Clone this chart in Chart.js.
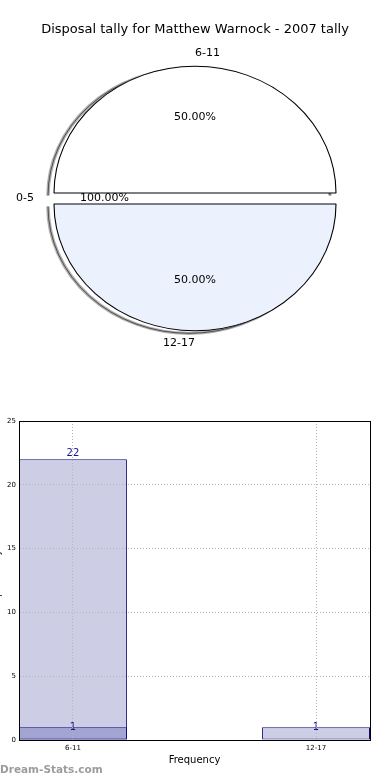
<!DOCTYPE html>
<html>
<head>
<meta charset="utf-8">
<script src="https://cdn.jsdelivr.net/npm/chart.js@4"></script>
<style>
    html, body { margin: 0; padding: 0; background: #fff; }
    body { width: 390px; height: 780px; position: relative; overflow: hidden; font-family: 'DejaVu Sans', sans-serif; }
    #pieBox { position: absolute; left: 0; top: 0; width: 390px; height: 400px; }
    #barBox { position: absolute; left: -10px; top: 400px; width: 400px; height: 380px; }
    .watermark { position: absolute; left: 0; top: 763px; font-size: 10.5px; font-weight: bold; color: #9c9c9c; }
</style>
</head>
<body>
<div id="pieBox"><canvas id="pieChart"></canvas></div>
<div id="barBox"><canvas id="barChart"></canvas></div>
<div class="watermark">Dream-Stats.com</div>
<script>
const chartTitle = 'Disposal tally for Matthew Warnock - 2007 tally';

// pie
const pieLabels = ['0-5', '6-11', '12-17'];
const pieValues = [0, 1, 1];
const piePercentLabels = ['100.00%', '50.00%', '50.00%'];

// bars
const barCategories = ['6-11', '12-17'];
const tallyValues = [22, 1];
const lowerValues = [1, null];
const yTicks = [0, 5, 10, 15, 20, 25];

Chart.defaults.font.family = 'DejaVu Sans';
Chart.defaults.color = '#000';

const squash = 0.9;   // pie is drawn a bit flattened
const explode = 6;    // every slice pulled out from the centre

// draws the slices itself: flattened, exploded, with a shadow rim
const piePlugin = {
    id: 'pieDecor',
    beforeDatasetDraw(chart, args) {
        const arcs = args.meta.data;
        const ctx = chart.ctx;
        const c = arcs[0];
        ctx.save();
        ctx.translate(c.x, c.y);
        ctx.scale(1, squash);
        ctx.translate(-c.x, -c.y);
        // shadow
        arcs.forEach(a => {
            if (a.endAngle - a.startAngle <= 0) return;
            const mid = (a.startAngle + a.endAngle) / 2;
            const sx = a.x + Math.cos(mid) * explode - 6;
            const sy = a.y + Math.sin(mid) * explode + 2.5 / squash;
            ctx.beginPath();
            ctx.arc(sx, sy, a.outerRadius, a.startAngle, a.endAngle);
            ctx.strokeStyle = 'rgba(140,140,140,0.7)';
            ctx.lineWidth = 3.5;
            ctx.stroke();
            ctx.beginPath();
            ctx.arc(sx, sy, a.outerRadius, a.startAngle, a.endAngle);
            ctx.strokeStyle = 'rgba(50,50,50,0.8)';
            ctx.lineWidth = 1;
            ctx.stroke();
        });
        arcs.forEach(a => {
            const mid = (a.startAngle + a.endAngle) / 2;
            ctx.save();
            ctx.translate(Math.cos(mid) * explode, Math.sin(mid) * explode);
            a.draw(ctx);
            ctx.restore();
        });
        ctx.restore();
        return false;
    },
    afterDraw(chart) {
        const arcs = chart.getDatasetMeta(0).data;
        const ctx = chart.ctx;
        ctx.save();
        ctx.font = '11px "DejaVu Sans"';
        ctx.fillStyle = '#000';
        ctx.textBaseline = 'middle';
        arcs.forEach((a, i) => {
            const mid = (a.startAngle + a.endAngle) / 2;
            const r = a.outerRadius;
            const cos = Math.cos(mid), sin = Math.sin(mid);
            const lx = a.x + cos * (1.1 * r + explode);
            const ly = a.y + sin * (1.1 * r + explode) * squash;
            ctx.textAlign = (sin < 0 && cos > -1e-6) ? 'left' : 'right';
            ctx.fillText(pieLabels[i], lx, ly);
            const px = a.x + cos * (0.6 * r + explode);
            const py = a.y + sin * (0.6 * r + explode) * squash;
            ctx.textAlign = 'center';
            ctx.fillText(piePercentLabels[i], px, py);
        });
        ctx.restore();
    }
};

new Chart(document.getElementById('pieChart'), {
    type: 'pie',
    data: {
        labels: pieLabels,
        datasets: [{
            data: pieValues,
            backgroundColor: ['#ffffff', '#ffffff', '#ebf1fd'],
            borderColor: '#000',
            borderWidth: 1.1,
            clip: false
        }]
    },
    options: {
        responsive: true,
        maintainAspectRatio: false,
        animation: false,
        radius: 141,
        rotation: -90,
        layout: { padding: { bottom: 50.6 } },
        plugins: {
            legend: { display: false },
            tooltip: { enabled: false },
            title: {
                display: true,
                text: chartTitle,
                color: '#000',
                font: { size: 13, weight: 'normal' },
                padding: { top: 22, bottom: 10 }
            }
        }
    },
    plugins: [piePlugin]
});

// box round the plot and the value labels over the bars
const barPlugin = {
    id: 'barDecor',
    afterDatasetsDraw(chart) {
        const ctx = chart.ctx;
        const yScale = chart.scales.y;
        ctx.save();
        ctx.font = '10px "DejaVu Sans"';
        ctx.fillStyle = '#14148a';
        ctx.textAlign = 'center';
        ctx.textBaseline = 'middle';
        chart.data.datasets.forEach((ds, d) => {
            chart.getDatasetMeta(d).data.forEach((bar, i) => {
                const v = ds.data[i].y;
                if (v === null) return;
                ctx.fillText(String(v), bar.x, yScale.getPixelForValue(v * 1.02));
            });
        });
        ctx.restore();
    },
    afterDraw(chart) {
        const { left, top, right, bottom } = chart.chartArea;
        const ctx = chart.ctx;
        ctx.save();
        ctx.strokeStyle = '#000';
        ctx.lineWidth = 1;
        ctx.strokeRect(Math.round(left) + 0.5, Math.round(top) + 0.5, Math.round(right - left), Math.round(bottom - top));
        ctx.restore();
    }
};

// border z must not be below grid z, or it is drawn before its position is known
const borderStyle = { color: '#000', dash: [1, 2], z: 1 };

new Chart(document.getElementById('barChart'), {
    type: 'bar',
    data: {
        datasets: [
            {
                label: 'lower',
                data: barCategories.map((c, i) => ({ x: i, y: lowerValues[i] })),
                backgroundColor: '#a4a4d2',
                borderColor: '#0c0c78',
                borderWidth: 1,
                borderSkipped: false,
                grouped: false,
                barPercentage: 0.444,
                categoryPercentage: 1
            },
            {
                label: 'tally',
                data: barCategories.map((c, i) => ({ x: i, y: tallyValues[i] })),
                backgroundColor: '#cdcde6',
                borderColor: '#0c0c78',
                borderWidth: 1,
                borderSkipped: false,
                grouped: false,
                barPercentage: 0.444,
                categoryPercentage: 1
            }
        ]
    },
    options: {
        responsive: true,
        maintainAspectRatio: false,
        animation: false,
        layout: { padding: { top: 21, right: 20, left: 0, bottom: 0 } },
        scales: {
            x: {
                type: 'linear',
                offset: false,
                min: -0.222,
                max: 1.222,
                afterBuildTicks: s => { s.ticks = barCategories.map((c, i) => ({ value: i })); },
                afterFit: s => { s.height = 40; },
                ticks: {
                    callback: v => barCategories[v],
                    font: { size: 7 },
                    color: '#000',
                    padding: 4,
                    maxRotation: 0,
                    autoSkip: false
                },
                grid: { offset: false, color: '#b4b4b4', lineWidth: 1, drawTicks: false, z: 1 },
                border: borderStyle,
                title: {
                    display: true,
                    text: 'Frequency',
                    color: '#000',
                    font: { size: 10 },
                    padding: { top: 0, bottom: 14 }
                }
            },
            y: {
                min: 0,
                max: 25,
                afterBuildTicks: s => { s.ticks = yTicks.map(v => ({ value: v })); },
                afterFit: s => { s.width = 29; },
                ticks: { font: { size: 7 }, color: '#000', padding: 3 },
                grid: { color: '#b4b4b4', lineWidth: 1, drawTicks: false, z: 1 },
                border: borderStyle,
                title: {
                    display: true,
                    text: 'Disposal Tally',
                    color: '#000',
                    font: { size: 9 },
                    padding: { top: 2, bottom: 0 }
                }
            }
        },
        plugins: {
            legend: { display: false },
            tooltip: { enabled: false }
        }
    },
    plugins: [barPlugin]
});
</script>
</body>
</html>
